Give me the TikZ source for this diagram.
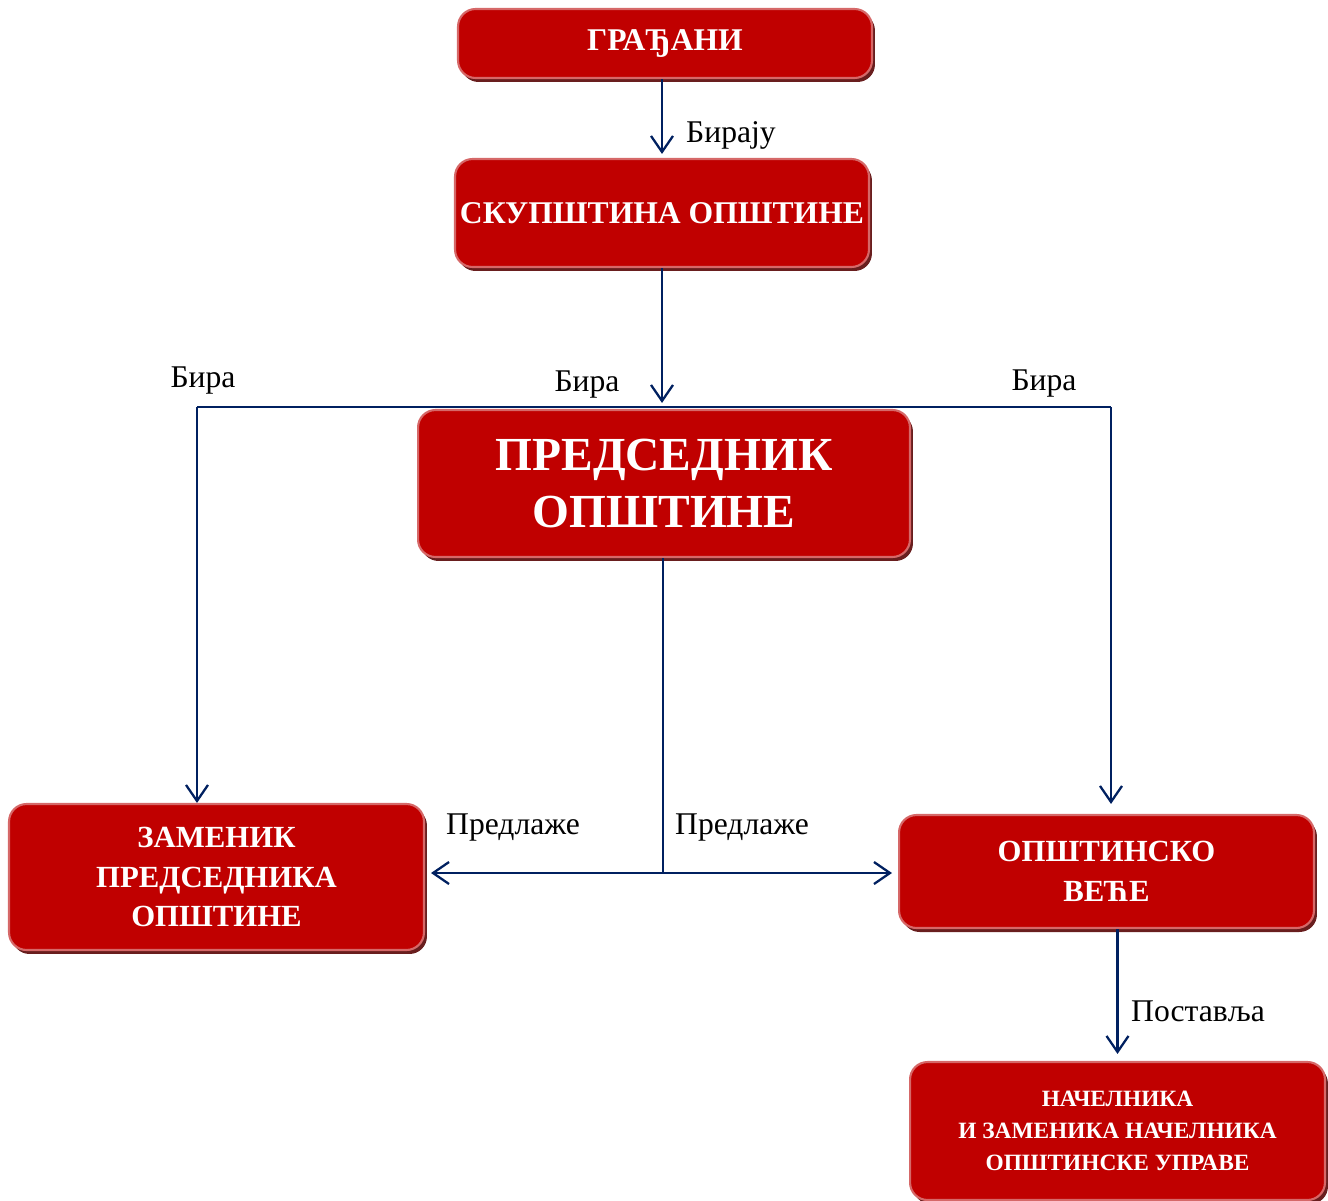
\documentclass[tikz,border=0pt]{standalone}
\usepackage{fontspec}
\setmainfont{Liberation Serif}
\usetikzlibrary{arrows.meta,shadows}
\definecolor{boxred}{RGB}{192,0,0}
\definecolor{boxrim}{RGB}{214,104,104}
\definecolor{boxshade}{RGB}{105,30,30}
\definecolor{linkblue}{RGB}{0,32,96}

\begin{document}
\begin{tikzpicture}[x=0.02cm,y=-0.02cm,
        box/.style={draw=boxrim,line width=1.2pt,fill=boxred,rounded corners=0.35cm,text=white,align=center,inner sep=0pt,
                drop shadow={shadow xshift=0.06cm,shadow yshift=-0.08cm,fill=boxshade,opacity=1}},
        link/.style={draw=linkblue,line width=1.3pt},
        tip/.style={-{Straight Barb[length=0.32cm,width=0.44cm,line width=1.3pt]}},
        lbl/.style={font=\fontsize{18}{21}\selectfont}]
        \useasboundingbox (0,0) rectangle (1328,1200);

        \node[box,minimum width=8.28cm,minimum height=1.38cm,font=\fontsize{18}{21}\bfseries](gradjani)at(665,43.5){ГРАЂАНИ};
        \node[box,minimum width=8.28cm,minimum height=2.16cm,font=\fontsize{18}{21}\bfseries](skupstina)at(662,213){СКУПШТИНА ОПШТИНЕ};
        \node[box,minimum width=9.84cm,minimum height=2.94cm,font=\fontsize{27}{32}\bfseries](predsednik)at(664,483.5){ПРЕДСЕДНИК\\ОПШТИНЕ};
        \node[box,minimum width=8.3cm,minimum height=2.92cm,font=\fontsize{17.5}{22.5}\bfseries](zamenik)at(216.5,877){ЗАМЕНИК\\ПРЕДСЕДНИКА\\ОПШТИНЕ};
        \node[box,minimum width=8.3cm,minimum height=2.26cm,font=\fontsize{17.5}{22.7}\bfseries](vece)at(1106.5,871.5){ОПШТИНСКО\\ВЕЋЕ};
        \node[box,minimum width=8.3cm,minimum height=2.76cm,font=\fontsize{13.3}{18}\bfseries](nacelnik)at(1117.5,1131){НАЧЕЛНИКА\\И ЗАМЕНИКА НАЧЕЛНИКА\\ОПШТИНСКЕ УПРАВЕ};

        \coordinate(leftbend)at(197,407);
        \coordinate(rightbend)at(1111,407);
        \coordinate(split)at(663,873);

        \draw[link,tip,shorten >=0.08cm](skupstina.north |- gradjani.south)--(skupstina.north);
        \draw[link,tip,shorten >=0.12cm](skupstina.south)--(skupstina.south |- predsednik.north);
        \draw[link](leftbend)--(rightbend);
        \draw[link,tip](leftbend)--(leftbend |- zamenik.north);
        \draw[link,tip,shorten >=0.2cm](rightbend)--(rightbend |- vece.north);
        \draw[link](predsednik.south -| split)--(split);
        \draw[link,tip,shorten >=0.12cm](split)--(zamenik.east |- split);
        \draw[link,tip,shorten >=0.12cm](split)--(vece.west |- split);
        \draw[link,tip,shorten >=0.14cm](nacelnik.north |- vece.south)--(nacelnik.north);

        \node[lbl]at(731,135){Бирају};
        \node[lbl]at(203,381){Бира};
        \node[lbl]at(587,385){Бира};
        \node[lbl]at(1044,384){Бира};
        \node[lbl]at(513,827){Предлаже};
        \node[lbl]at(742,827){Предлаже};
        \node[lbl]at(1198,1011){Поставља};
\end{tikzpicture}
\end{document}
